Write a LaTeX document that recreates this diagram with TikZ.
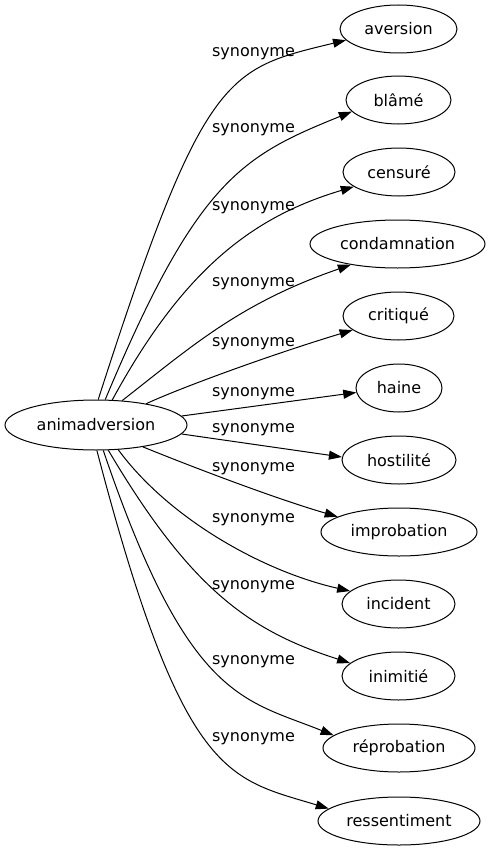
\documentclass[tikz,border=0pt]{standalone}
\usepackage{fontspec}
\setmainfont{DejaVu Sans}
\usetikzlibrary{arrows.meta,shapes.geometric}

\begin{document}
\begin{tikzpicture}[
    x=1pt, y=-1pt,
    word/.style={ellipse, draw=black, line width=1pt, inner sep=0pt,
        minimum height=48pt, font=\fontsize{16}{19}\selectfont},
    rel/.style={inner sep=0pt, font=\fontsize{16}{19}\selectfont},
    edge/.style={line width=1pt, -{Triangle[length=13pt, width=9pt]}}
]
    \useasboundingbox (0,0) rectangle (492,851);

    \node[word, minimum width=182pt, minimum height=50pt] (an) at (96,425) {animadversion};

    \node[word, minimum width=117pt] (aversion) at (398.5,29) {aversion};
    \node[word, minimum width=105pt] (blame) at (398.5,100) {blâmé};
    \node[word, minimum width=112pt] (censure) at (399,172) {censuré};
    \node[word, minimum width=175pt] (condamnation) at (397.5,244) {condamnation};
    \node[word, minimum width=111pt] (critique) at (398.5,316) {critiqué};
    \node[word, minimum width=86pt] (haine) at (399,388) {haine};
    \node[word, minimum width=114pt] (hostilite) at (399,460) {hostilité};
    \node[word, minimum width=156pt] (improbation) at (399,532) {improbation};
    \node[word, minimum width=113pt] (incident) at (398.5,604) {incident};
    \node[word, minimum width=113pt] (inimitie) at (398.5,676) {inimitié};
    \node[word, minimum width=152pt] (reprobation) at (399,748) {réprobation};
    \node[word, minimum width=162pt] (ressentiment) at (399,821) {ressentiment};

    \node[rel] (s1) at (253.5,54) {synonyme};
    \node[rel] (s2) at (253.5,130) {synonyme};
    \node[rel] (s3) at (253.5,208) {synonyme};
    \node[rel] (s4) at (253.5,284) {synonyme};
    \node[rel] (s5) at (253.5,344) {synonyme};
    \node[rel] (s6) at (253.5,394) {synonyme};
    \node[rel] (s7) at (253.5,430) {synonyme};
    \node[rel] (s8) at (253.5,469) {synonyme};
    \node[rel] (s9) at (253.5,520) {synonyme};
    \node[rel] (s10) at (253.5,587) {synonyme};
    \node[rel] (s11) at (253.5,662) {synonyme};
    \node[rel] (s12) at (253.5,739) {synonyme};

    \draw[edge] (an.85) .. controls (204,70) and (227,69) .. (aversion.192);
    \draw[edge] (an.70) .. controls (197,180) and (242,156) .. (blame.194);
    \draw[edge] (an.57) .. controls (183,270) and (252,217) .. (censure.198);
    \draw[edge] (an.43) .. controls (192,346) and (240,303) .. (condamnation.204);
    \draw[edge] (an.23) .. controls (180,388) and (270,355) .. (critique.197);
    \draw[edge] (an.6) -- (haine.186);
    \draw[edge] (an.354) -- (hostilite.177);
    \draw[edge] (an.335) .. controls (180,462) and (270,497) .. (improbation.166);
    \draw[edge] (an.312) .. controls (170,520) and (265,572) .. (incident.165);
    \draw[edge] (an.296) .. controls (191,590) and (250,631) .. (inimitie.165);
    \draw[edge] (an.286) .. controls (188,700) and (243,699) .. (reprobation.169);
    \draw[edge] (an.272) .. controls (183,780) and (228,778) .. (ressentiment.170);
\end{tikzpicture}
\end{document}
